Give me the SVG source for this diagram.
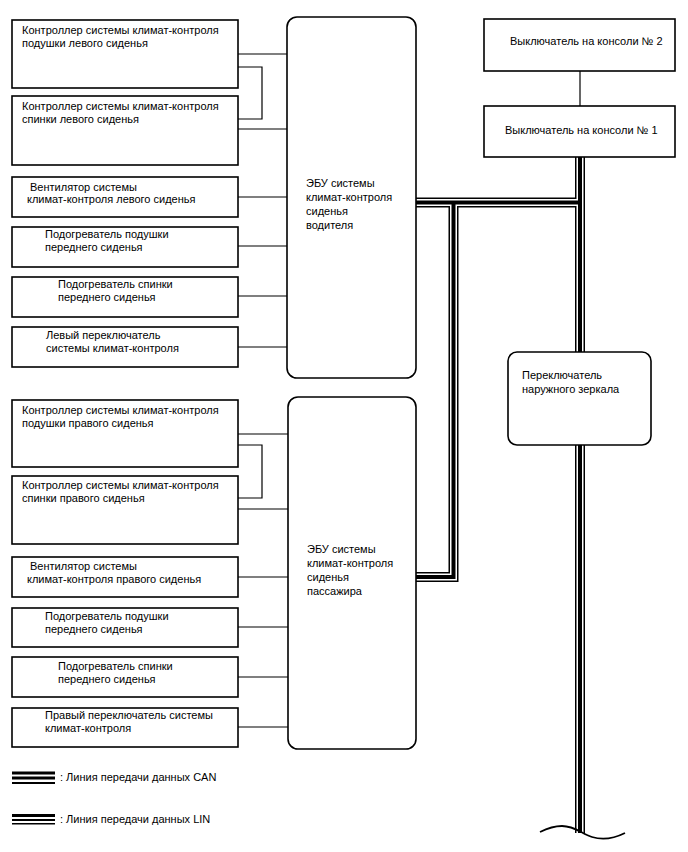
<svg xmlns="http://www.w3.org/2000/svg" xmlns:xlink="http://www.w3.org/1999/xlink" width="688" height="852" viewBox="0 0 688 852">
<style>
  .box{fill:#fff;stroke:#000;stroke-width:1.6}
  .ecu{fill:#fff;stroke:#000;stroke-width:1.6}
  .t{font-family:"Liberation Sans",Arial,sans-serif;font-size:11px;fill:#000}
  .wire{fill:none;stroke:#000;stroke-width:1.2}
</style>
<defs>
  <g id="busPaths" fill="none">
    <path d="M416,202.5 H580"/>
    <path d="M580,157 V352"/>
    <path d="M453.5,202.5 V577 H416"/>
    <path d="M580,445 V833"/>
  </g>
</defs>
<rect width="688" height="852" fill="#fff"/>

<g id="connectors">
  <path class="wire" d="M238,54 H287 M238,67 H262 V119 H238 M238,129 H287 M238,197 H287 M238,246 H287 M238,296 H287 M238,347 H287"/>
  <path class="wire" d="M238,434 H288 M238,445 H262 V498 H238 M238,509 H288 M238,577 H288 M238,627 H288 M238,677 H288 M238,727 H288"/>
  <path class="wire" d="M580,71 V106"/>
  <use xlink:href="#busPaths" href="#busPaths" stroke="#000" stroke-width="10"/>
  <use xlink:href="#busPaths" href="#busPaths" stroke="#fff" stroke-width="7"/>
  <use xlink:href="#busPaths" href="#busPaths" stroke="#000" stroke-width="4"/>
  <path d="M540,832 C548,828 555,826 562,826 C575,826 582,834 592,837 C605,841 615,838 625,833" fill="none" stroke="#000" stroke-width="1.8"/>
</g>

<g id="n-l1"><rect class="box" x="12" y="20" width="226" height="68"/>
  <text class="t" x="22" y="34">Контроллер системы климат-контроля</text>
  <text class="t" x="22" y="46.5">подушки левого сиденья</text></g>
<g id="n-l2"><rect class="box" x="12" y="96" width="226" height="69"/>
  <text class="t" x="22" y="110">Контроллер системы климат-контроля</text>
  <text class="t" x="22" y="122.5">спинки левого сиденья</text></g>
<g id="n-l3"><rect class="box" x="12" y="177" width="226" height="40"/>
  <text class="t" x="30" y="190.5">Вентилятор системы</text>
  <text class="t" x="27" y="203">климат-контроля левого сиденья</text></g>
<g id="n-l4"><rect class="box" x="12" y="227" width="226" height="40"/>
  <text class="t" x="45" y="238">Подогреватель подушки</text>
  <text class="t" x="45" y="251">переднего сиденья</text></g>
<g id="n-l5"><rect class="box" x="12" y="277" width="226" height="40"/>
  <text class="t" x="58" y="288">Подогреватель спинки</text>
  <text class="t" x="58" y="301">переднего сиденья</text></g>
<g id="n-l6"><rect class="box" x="12" y="327" width="226" height="40"/>
  <text class="t" x="46" y="338.5">Левый переключатель</text>
  <text class="t" x="46" y="352">системы климат-контроля</text></g>

<g id="n-ecu-driver"><rect class="ecu" x="287" y="17" width="129" height="361" rx="10"/>
  <text class="t" x="306" y="187">ЭБУ системы</text>
  <text class="t" x="306" y="201">климат-контроля</text>
  <text class="t" x="306" y="215">сиденья</text>
  <text class="t" x="306" y="229">водителя</text></g>

<g id="n-r1"><rect class="box" x="12" y="400" width="226" height="67"/>
  <text class="t" x="22" y="414">Контроллер системы климат-контроля</text>
  <text class="t" x="22" y="426.5">подушки правого сиденья</text></g>
<g id="n-r2"><rect class="box" x="12" y="476" width="226" height="68"/>
  <text class="t" x="22" y="489">Контроллер системы климат-контроля</text>
  <text class="t" x="22" y="501.5">спинки правого сиденья</text></g>
<g id="n-r3"><rect class="box" x="12" y="557" width="226" height="40"/>
  <text class="t" x="30" y="570">Вентилятор системы</text>
  <text class="t" x="27" y="583">климат-контроля правого сиденья</text></g>
<g id="n-r4"><rect class="box" x="12" y="608" width="226" height="39"/>
  <text class="t" x="45" y="620">Подогреватель подушки</text>
  <text class="t" x="45" y="633">переднего сиденья</text></g>
<g id="n-r5"><rect class="box" x="12" y="657" width="226" height="40"/>
  <text class="t" x="58" y="670">Подогреватель спинки</text>
  <text class="t" x="58" y="683">переднего сиденья</text></g>
<g id="n-r6"><rect class="box" x="12" y="708" width="226" height="39"/>
  <text class="t" x="45" y="718.5">Правый переключатель системы</text>
  <text class="t" x="45" y="732">климат-контроля</text></g>

<g id="n-ecu-pass"><rect class="ecu" x="288" y="397" width="128" height="352" rx="10"/>
  <text class="t" x="307" y="553">ЭБУ системы</text>
  <text class="t" x="307" y="567">климат-контроля</text>
  <text class="t" x="307" y="581">сиденья</text>
  <text class="t" x="307" y="595">пассажира</text></g>

<g id="n-console2"><rect class="box" x="484" y="19" width="191" height="52"/>
  <text class="t" x="510" y="45">Выключатель на консоли № 2</text></g>
<g id="n-console1"><rect class="box" x="484" y="106" width="191" height="51"/>
  <text class="t" x="505" y="134">Выключатель на консоли № 1</text></g>
<g id="n-mirror"><rect class="ecu" x="508" y="352" width="143" height="93" rx="9"/>
  <text class="t" x="522" y="379">Переключатель</text>
  <text class="t" x="522" y="393">наружного зеркала</text></g>

<g id="legend">
  <rect x="12" y="771.5" width="43" height="3" fill="#000"/>
  <rect x="12" y="776.5" width="43" height="3" fill="#000"/>
  <rect x="12" y="782" width="43" height="2" fill="#000"/>
  <text class="t" x="60" y="781">: Линия передачи данных CAN</text>
  <rect x="12" y="814" width="43" height="3" fill="#000"/>
  <rect x="12" y="819" width="43" height="2" fill="#000"/>
  <rect x="12" y="823" width="43" height="1.5" fill="#000"/>
  <text class="t" x="60" y="823">: Линия передачи данных LIN</text>
</g>
</svg>
